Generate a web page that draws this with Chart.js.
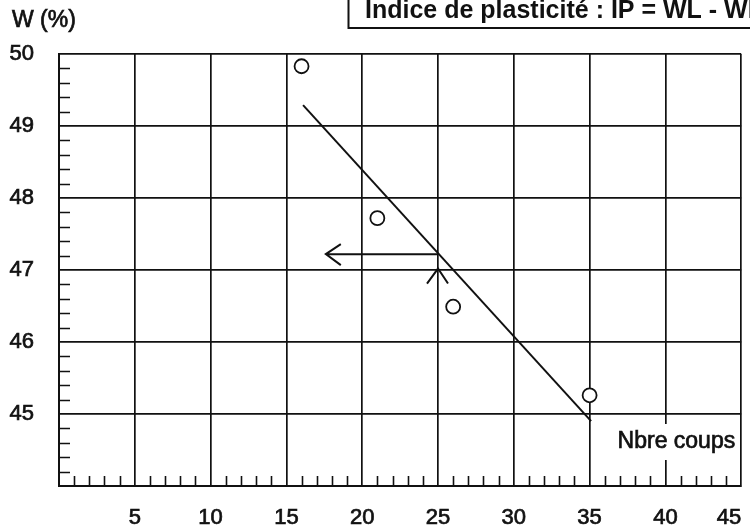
<!DOCTYPE html>
<html>
<head>
<meta charset="utf-8">
<script src="https://cdn.jsdelivr.net/npm/chart.js@4/dist/chart.umd.min.js"></script>
<style>
  html, body { margin: 0; padding: 0; background: #fff; }
  #wrap { width: 750px; height: 528px; }
</style>
</head>
<body>
<div id="wrap"><canvas id="chart"></canvas></div>
<script>
// blow counts and water contents
const blows = [16, 21, 26, 35];
const water = [49.83, 47.72, 46.49, 45.26];

// fitted line end points
const fitBlows = [16.1, 35.1];
const fitWater = [49.29, 44.9];

// reading at 25 blows
const readBlows = 25;
const readWater = 47.22;
const readStart = 17.6;
const readTip = 47.02;

const xTicks = [5, 10, 15, 20, 25, 30, 35, 40, 45];
const yTicks = [45, 46, 47, 48, 49, 50];

const FONT = 'Liberation Sans, Arial, sans-serif';
const INK = '#111';

const paper = {
  id: 'paper',
  beforeDatasetsDraw(chart) {
    const { ctx, chartArea: a, scales: { x, y } } = chart;
    ctx.save();
    ctx.strokeStyle = INK;
    ctx.lineWidth = 1.6;
    ctx.beginPath();
    // minor ticks on W axis, every 0.2
    for (let v = 44.2; v < 50; v += 0.2) {
      if (Math.abs(v - Math.round(v)) < 0.01) continue;
      const py = Math.round(y.getPixelForValue(v)) + 0.5;
      ctx.moveTo(a.left, py);
      ctx.lineTo(a.left + 11, py);
    }
    // minor ticks on blows axis, every 1
    for (let v = 1; v < 45; v++) {
      if (v % 5 === 0) continue;
      const px = Math.round(x.getPixelForValue(v)) + 0.5;
      ctx.moveTo(px, a.bottom);
      ctx.lineTo(px, a.bottom - 10);
    }
    ctx.stroke();

    // label box over the 40 line
    ctx.font = '23px ' + FONT;
    ctx.textAlign = 'right';
    ctx.textBaseline = 'alphabetic';
    ctx.fillStyle = '#fff';
    ctx.fillRect(606, 424, a.right - 608, 36);
    ctx.fillStyle = INK;
    ctx.lineWidth = 0.7;
    ctx.fillText('Nbre coups', a.right - 6, 448);
    ctx.strokeText('Nbre coups', a.right - 6, 448);

    // reading arrows
    ctx.lineWidth = 2;
    const hx0 = x.getPixelForValue(readBlows);
    const hx1 = x.getPixelForValue(readStart);
    const hy = y.getPixelForValue(readWater);
    ctx.beginPath();
    ctx.moveTo(hx0, hy);
    ctx.lineTo(hx1, hy);
    ctx.moveTo(hx1 + 15, hy - 10);
    ctx.lineTo(hx1, hy);
    ctx.lineTo(hx1 + 15, hy + 11);
    const vy = y.getPixelForValue(readTip);
    ctx.moveTo(hx0 - 11, vy + 15);
    ctx.lineTo(hx0, vy);
    ctx.lineTo(hx0 + 10, vy + 15);
    ctx.stroke();
    ctx.restore();
  },
  afterDraw(chart) {
    const { ctx } = chart;
    ctx.save();
    ctx.fillStyle = INK;
    ctx.strokeStyle = INK;
    ctx.font = '23px ' + FONT;
    ctx.textAlign = 'left';
    ctx.lineWidth = 0.7;
    ctx.fillText('W (%)', 12, 27);
    ctx.strokeText('W (%)', 12, 27);

    ctx.lineWidth = 2;
    ctx.strokeRect(348.5, -5, 420, 33);
    ctx.font = 'bold 25px ' + FONT;
    ctx.fillText('Indice de plasticité : IP = WL - WP', 365, 18);
    ctx.restore();
  }
};

const tickFont = { family: FONT, size: 22 };

new Chart(document.getElementById('chart'), {
  type: 'scatter',
  data: {
    datasets: [
      {
        label: 'Droite',
        data: fitBlows.map((b, i) => ({ x: b, y: fitWater[i] })),
        showLine: true,
        borderColor: INK,
        borderWidth: 2,
        pointRadius: 0
      },
      {
        label: 'Essais',
        data: blows.map((b, i) => ({ x: b, y: water[i] })),
        pointRadius: 7,
        pointBorderWidth: 1.8,
        pointBorderColor: INK,
        pointBackgroundColor: '#fff'
      }
    ]
  },
  options: {
    responsive: true,
    maintainAspectRatio: false,
    animation: false,
    layout: { padding: { top: 54, right: 8, left: 0, bottom: 0 } },
    plugins: {
      legend: { display: false },
      tooltip: { enabled: false }
    },
    scales: {
      x: {
        type: 'linear',
        min: 0,
        max: 45,
        afterBuildTicks: s => { s.ticks = [0].concat(xTicks).map(v => ({ value: v })); },
        afterFit: s => { s.height = 42; s.paddingLeft = 0; s.paddingRight = 0; },
        grid: { color: INK, lineWidth: 1.7, drawTicks: false },
        border: { color: INK, width: 2 },
        ticks: {
          padding: 19,
          align: 'inner',
          color: INK,
          textStrokeColor: INK,
          textStrokeWidth: 0.7,
          font: tickFont,
          maxRotation: 0,
          callback: v => (v === 0 ? '' : v)
        }
      },
      y: {
        type: 'linear',
        min: 44,
        max: 50,
        afterBuildTicks: s => { s.ticks = [44].concat(yTicks).map(v => ({ value: v })); },
        afterFit: s => { s.width = 59; s.paddingTop = 0; s.paddingBottom = 0; },
        grid: { color: INK, lineWidth: 1.7, drawTicks: false },
        border: { color: INK, width: 2 },
        ticks: {
          padding: 25,
          color: INK,
          textStrokeColor: INK,
          textStrokeWidth: 0.7,
          font: tickFont,
          callback: v => (v === 44 ? '' : v)
        }
      }
    }
  },
  plugins: [paper]
});
</script>
</body>
</html>
